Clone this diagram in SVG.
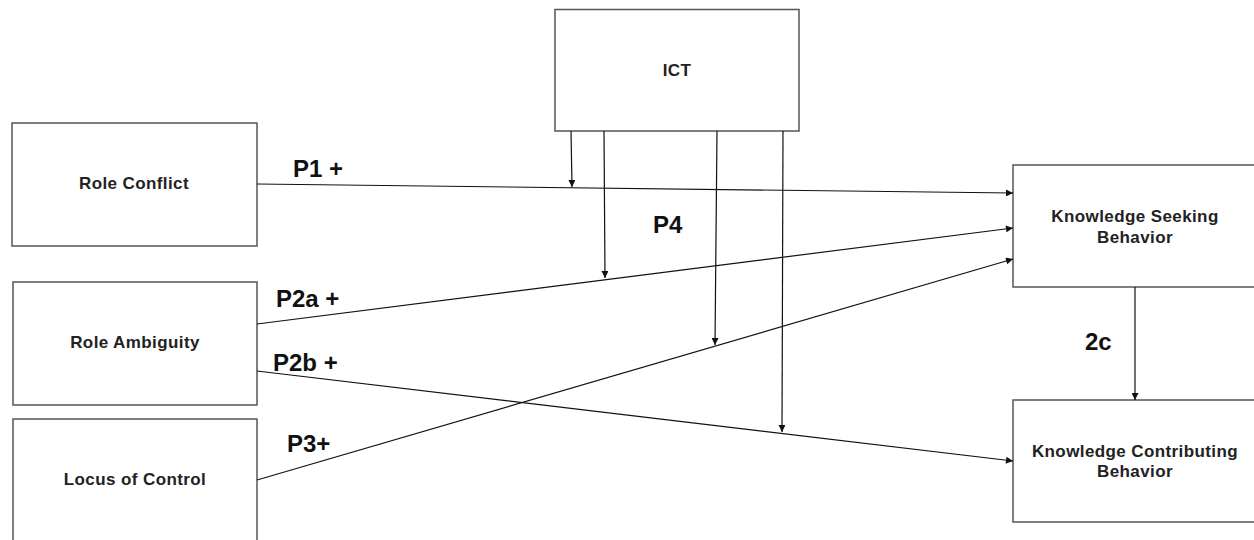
<svg xmlns="http://www.w3.org/2000/svg" width="1254" height="540" viewBox="0 0 1254 540">
<style>
.box{fill:#fff;stroke:#555;stroke-width:1.5}
.nt{font-family:"Liberation Sans",Arial,sans-serif;font-weight:bold;font-size:17px;letter-spacing:0.4px;fill:#222;text-anchor:middle}
.lb{font-family:"Liberation Sans",Arial,sans-serif;font-weight:bold;font-size:24px;fill:#111}
.c{fill:none;stroke:#111;stroke-width:1.2}
</style>
<defs>
<marker id="ah" viewBox="0 0 10 10" refX="10" refY="5" markerWidth="10" markerHeight="7" markerUnits="userSpaceOnUse" orient="auto">
<path d="M0,0 L10,5 L0,10 z" fill="#111"/>
</marker>
</defs>
<rect width="1254" height="540" fill="#fff"/>
<g id="ict"><rect class="box" x="555" y="9.5" width="244" height="121.5"/><text class="nt" x="677" y="76">ICT</text></g>
<g id="role-conflict"><rect class="box" x="12" y="123" width="245" height="123"/><text class="nt" x="134" y="189">Role Conflict</text></g>
<g id="role-ambiguity"><rect class="box" x="13" y="282" width="244" height="123"/><text class="nt" x="135" y="348">Role Ambiguity</text></g>
<g id="locus-of-control"><rect class="box" x="13" y="419" width="244" height="130"/><text class="nt" x="135" y="485">Locus of Control</text></g>
<g id="ksb"><rect class="box" x="1013" y="165" width="250" height="122"/><text class="nt" x="1135" y="222">Knowledge Seeking</text><text class="nt" x="1135" y="243">Behavior</text></g>
<g id="kcb"><rect class="box" x="1013" y="400" width="250" height="122"/><text class="nt" x="1135" y="457">Knowledge Contributing</text><text class="nt" x="1135" y="477">Behavior</text></g>
<g id="connectors">
<line class="c" x1="257" y1="184" x2="1013" y2="193" marker-end="url(#ah)"/>
<line class="c" x1="257" y1="324" x2="1013" y2="228" marker-end="url(#ah)"/>
<line class="c" x1="257" y1="371" x2="1013" y2="461" marker-end="url(#ah)"/>
<line class="c" x1="257" y1="480" x2="1013" y2="259" marker-end="url(#ah)"/>
<line class="c" x1="1135" y1="287" x2="1135" y2="400" marker-end="url(#ah)"/>
<line class="c" x1="571" y1="131" x2="572" y2="187" marker-end="url(#ah)"/>
<line class="c" x1="604" y1="131" x2="605" y2="278" marker-end="url(#ah)"/>
<line class="c" x1="717" y1="131" x2="715" y2="345" marker-end="url(#ah)"/>
<line class="c" x1="783" y1="131" x2="782" y2="432" marker-end="url(#ah)"/>
</g>
<g id="labels">
<text class="lb" x="293" y="177">P1 +</text>
<text class="lb" x="276" y="307">P2a +</text>
<text class="lb" x="273" y="371">P2b +</text>
<text class="lb" x="287" y="452">P3+</text>
<text class="lb" x="653" y="233">P4</text>
<text class="lb" x="1085" y="350">2c</text>
</g>
</svg>
